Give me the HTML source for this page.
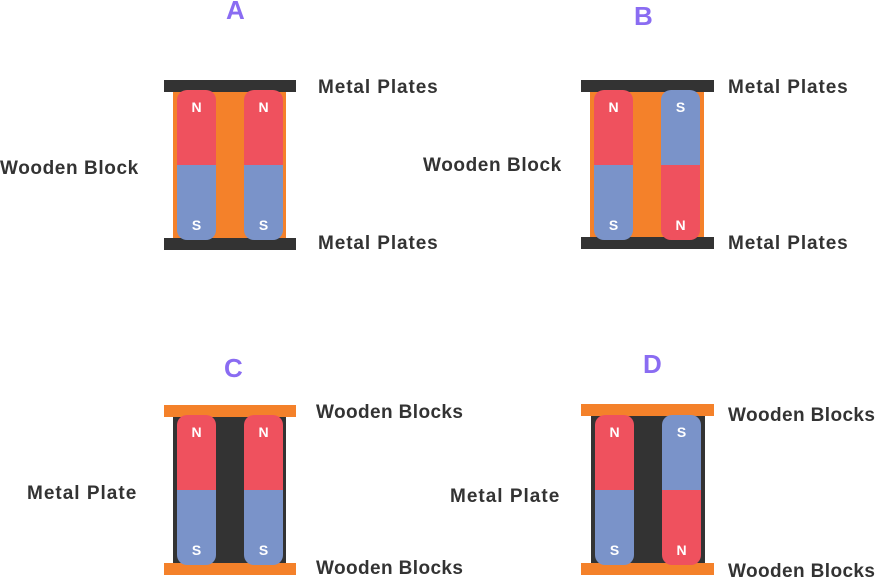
<!DOCTYPE html>
<html><head><meta charset="utf-8"><style>
body{margin:0;width:875px;height:578px;background:#fff;position:relative;overflow:hidden;font-family:"Liberation Sans",sans-serif}
div{position:absolute;box-sizing:border-box}
.plate{height:12px;background:#333}
.oplate{height:12px;background:#f4812a}
.t{color:#333;font-weight:bold;font-size:19px;white-space:nowrap;line-height:20px;letter-spacing:0.6px}
.h{color:#8a6cf2;font-weight:bold;font-size:26px;line-height:26px}
.m{width:39px;height:150px;border-radius:10px;overflow:hidden}
.m .a,.m .b{position:static;height:75px;color:#fff;font-weight:bold;font-size:14px;text-align:center}
.r{background:#ef515e}.bl{background:#7a93c9}
.m .a{padding-top:9px}.m .b{padding-top:52px}
</style></head><body>
<!-- A -->
<div class="h" style="left:226px;top:-3px">A</div>
<div style="left:173px;top:90px;width:113px;height:150px;background:#f4812a"></div>
<div class="plate" style="left:164px;top:80px;width:132px"></div>
<div class="plate" style="left:164px;top:238px;width:132px"></div>
<div class="m" style="left:177px;top:90px"><div class="a r">N</div><div class="b bl">S</div></div>
<div class="m" style="left:244px;top:90px"><div class="a r">N</div><div class="b bl">S</div></div>
<div class="t" style="left:318px;top:78px;letter-spacing:0.9px">Metal Plates</div>
<div class="t" style="left:318px;top:234px;letter-spacing:0.9px">Metal Plates</div>
<div class="t" style="left:0px;top:159px">Wooden Block</div>
<!-- B -->
<div class="h" style="left:634px;top:3px">B</div>
<div style="left:590px;top:90px;width:114px;height:150px;background:#f4812a"></div>
<div class="plate" style="left:581px;top:80px;width:133px"></div>
<div class="plate" style="left:581px;top:237px;width:133px"></div>
<div class="m" style="left:594px;top:90px"><div class="a r">N</div><div class="b bl">S</div></div>
<div class="m" style="left:661px;top:90px"><div class="a bl">S</div><div class="b r">N</div></div>
<div class="t" style="left:728px;top:78px;letter-spacing:0.9px">Metal Plates</div>
<div class="t" style="left:728px;top:234px;letter-spacing:0.9px">Metal Plates</div>
<div class="t" style="left:423px;top:156px">Wooden Block</div>
<!-- C -->
<div class="h" style="left:224px;top:355px">C</div>
<div style="left:173px;top:415px;width:113px;height:150px;background:#333"></div>
<div class="oplate" style="left:164px;top:405px;width:132px"></div>
<div class="oplate" style="left:164px;top:563px;width:132px"></div>
<div class="m" style="left:177px;top:415px"><div class="a r">N</div><div class="b bl">S</div></div>
<div class="m" style="left:244px;top:415px"><div class="a r">N</div><div class="b bl">S</div></div>
<div class="t" style="left:316px;top:403px;letter-spacing:0.4px">Wooden Blocks</div>
<div class="t" style="left:316px;top:559px;letter-spacing:0.4px">Wooden Blocks</div>
<div class="t" style="left:27px;top:484px;letter-spacing:1px">Metal Plate</div>
<!-- D -->
<div class="h" style="left:643px;top:351px">D</div>
<div style="left:591px;top:415px;width:114px;height:150px;background:#333"></div>
<div class="oplate" style="left:581px;top:404px;width:133px"></div>
<div class="oplate" style="left:581px;top:563px;width:133px"></div>
<div class="m" style="left:595px;top:415px"><div class="a r">N</div><div class="b bl">S</div></div>
<div class="m" style="left:662px;top:415px"><div class="a bl">S</div><div class="b r">N</div></div>
<div class="t" style="left:728px;top:406px;letter-spacing:0.4px">Wooden Blocks</div>
<div class="t" style="left:728px;top:562px;letter-spacing:0.4px">Wooden Blocks</div>
<div class="t" style="left:450px;top:487px;letter-spacing:1px">Metal Plate</div>
</body></html>
